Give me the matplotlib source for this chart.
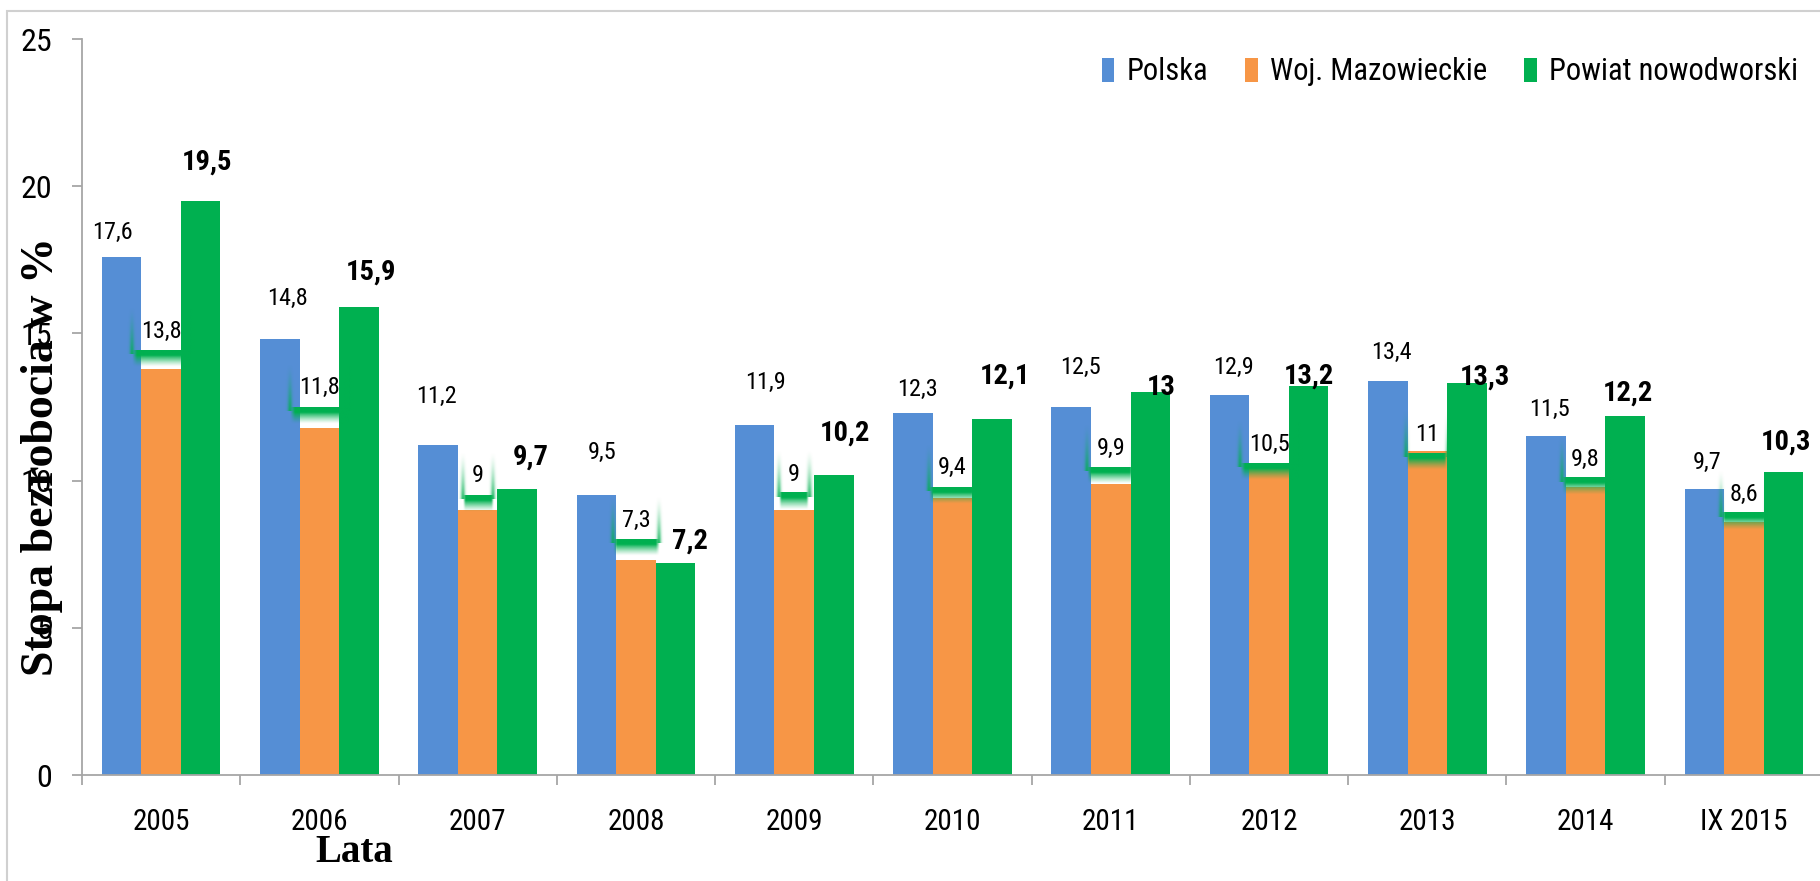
import numpy as np
import matplotlib.pyplot as plt
from matplotlib import font_manager
from matplotlib.patches import Rectangle

# data
years = ['2005', '2006', '2007', '2008', '2009', '2010', '2011', '2012', '2013', '2014', 'IX 2015']
polska = [17.6, 14.8, 11.2, 9.5, 11.9, 12.3, 12.5, 12.9, 13.4, 11.5, 9.7]
mazowieckie = [13.8, 11.8, 9.0, 7.3, 9.0, 9.4, 9.9, 10.5, 11.0, 9.8, 8.6]
nowodworski = [19.5, 15.9, 9.7, 7.2, 10.2, 12.1, 13.0, 13.2, 13.3, 12.2, 10.3]
series_names = ['Polska', 'Woj. Mazowieckie', 'Powiat nowodworski']

# label placement as seen on the original (dy in data units, dx in pixels)
polska_dy = [0.84, 1.4, 1.66, 1.47, 1.45, 0.81, 1.36, 0.96, 0.97, 0.93, 0.93]
polska_dx = [-9, 8, -2, 6, 11, 5, 9, 4, 4, 3, 3]
maz_dy = [1.28, 1.35, 1.16, 1.36, 1.22, 1.03, 1.2, 0.74, 0.58, 0.93, 0.94]
now_dy = [1.32, 1.19, 1.1, 0.75, 1.4, 1.45, 0.18, 0.35, 0.2, 0.77, 1.01]
now_dx = [6, 12, 13, 14, 11, 13, 11, 0, 18, 3, 3]

blue = '#558ED5'
orange = '#F79646'
green = '#00B050'

avail = {f.name for f in font_manager.fontManager.ttflist}
narrow = 'Liberation Sans'
for f in ['Liberation Sans Narrow', 'Roboto Condensed', 'Open Sans Condensed', 'DejaVu Sans Condensed']:
    if f in avail:
        narrow = f
        break
plt.rcParams['font.family'] = [narrow, 'DejaVu Sans']
serif = ['Liberation Serif', 'DejaVu Serif']

fig = plt.figure(figsize=(18.2, 8.81), dpi=100)
ax = fig.add_axes([82/1820, 0.1203, 1741/1820, 0.8354])

x = np.arange(len(years))
w = 0.25
ax.bar(x - w, polska, w, color=blue, zorder=2, label=series_names[0])
ax.bar(x, mazowieckie, w, color=orange, zorder=2, label=series_names[1])
ax.bar(x + w, nowodworski, w, color=green, zorder=2, label=series_names[2])

ax.set_xlim(-0.5, len(years) - 0.5)
ax.set_ylim(0, 25)

for s in ['top', 'right']:
    ax.spines[s].set_visible(False)
for s in ['left', 'bottom']:
    ax.spines[s].set_color('#a6a6a6')
    ax.spines[s].set_linewidth(1.3)

ax.set_yticks([0, 5, 10, 15, 20, 25])
ax.tick_params(axis='y', length=7.2, width=1.3, color='#a6a6a6', pad=14, labelsize=23)
ax.set_xticks(x)
ax.set_xticklabels(years)
ax.set_xticks(np.arange(len(years) + 1) - 0.5, minor=True)
ax.tick_params(axis='x', which='major', length=0, pad=24, labelsize=21)
ax.tick_params(axis='x', which='minor', length=7.2, width=1.3, color='#a6a6a6')

def fmt(v):
    return f'{v:g}'.replace('.', ',')

px = 1741 / len(years)  # pixels per category
for i in range(len(years)):
    ax.text(x[i] - w + polska_dx[i] / px, polska[i] + polska_dy[i], fmt(polska[i]),
            ha='center', va='center', fontsize=17.5, zorder=5)
    ax.text(x[i] + w + now_dx[i] / px, nowodworski[i] + now_dy[i], fmt(nowodworski[i]),
            ha='center', va='center', fontsize=20.5, fontweight='bold', zorder=5)

maz_texts = []
for i in range(len(years)):
    t = ax.text(x[i], mazowieckie[i] + maz_dy[i], fmt(mazowieckie[i]),
                ha='center', va='center', fontsize=17.5, zorder=5)
    maz_texts.append(t)

# green glow around the orange labels
g_rgb = np.array([0, 176, 80]) / 255

def band_img(h=30, wd=80):
    yy = np.linspace(0, 1, h)[:, None]
    vert = np.clip(1 - (yy - 0.3) / 0.7, 0, 1) ** 1.3
    xx = np.linspace(0, 1, wd)[None, :]
    horiz = np.clip(np.minimum(xx, 1 - xx) / 0.08, 0, 1)
    img = np.zeros((h, wd, 4))
    img[..., :3] = g_rgb
    img[..., 3] = vert * horiz
    return img

def side_img(h=40, wd=14):
    yy = np.linspace(0, 1, h)[:, None]
    vert = yy ** 1.5
    xx = np.linspace(-1, 1, wd)[None, :]
    horiz = np.exp(-(xx / 0.4) ** 2)
    img = np.zeros((h, wd, 4))
    img[..., :3] = g_rgb
    img[..., 3] = 0.85 * vert * horiz
    return img

fig.canvas.draw()
renderer = fig.canvas.get_renderer()
inv = ax.transData.inverted()
band = band_img()
side = side_img()
for i, t in enumerate(maz_texts):
    bb = t.get_window_extent(renderer)
    yc = ax.transData.transform((x[i], mazowieckie[i] + maz_dy[i]))[1]
    left, right = bb.x0 - 9, bb.x1 + 9
    top = yc - 19
    bot = top - 17
    (x0, y0), (x1, y1) = inv.transform([(left, bot), (right, top)])
    ax.imshow(band, extent=[x0, x1, y0, y1], aspect='auto', zorder=3,
              interpolation='bilinear', origin='upper')
    for ex in (left, right):
        (sx0, sy0), (sx1, sy1) = inv.transform([(ex - 6, top - 4), (ex + 6, top + 44)])
        ax.imshow(side, extent=[sx0, sx1, sy0, sy1], aspect='auto', zorder=3,
                  interpolation='bilinear', origin='upper')

ax.set_xlim(-0.5, len(years) - 0.5)
ax.set_ylim(0, 25)

leg = fig.legend(loc='center right', bbox_to_anchor=(1798/1820, 1 - 72/881), ncol=3,
                 frameon=False, fontsize=22, handlelength=0.42, handleheight=0.8,
                 handletextpad=0.4, columnspacing=1.2, borderpad=0, borderaxespad=0)

fig.text(42/1820, 1 - 457/881, 'Stopa bezrobocia w %', rotation=90, ha='center', va='center',
         fontsize=33, fontweight='bold', family=serif)
fig.text(354/1820, 1 - 852/881, 'Lata', ha='center', va='center',
         fontsize=28, fontweight='bold', family=serif)

fig.patches.append(Rectangle((7/1820, -0.05), 1.2, 1 - 11/881 + 0.05, transform=fig.transFigure,
                             fill=False, edgecolor='#d0d0d0', lw=1.5))

fig.savefig('out.png', dpi=100)
